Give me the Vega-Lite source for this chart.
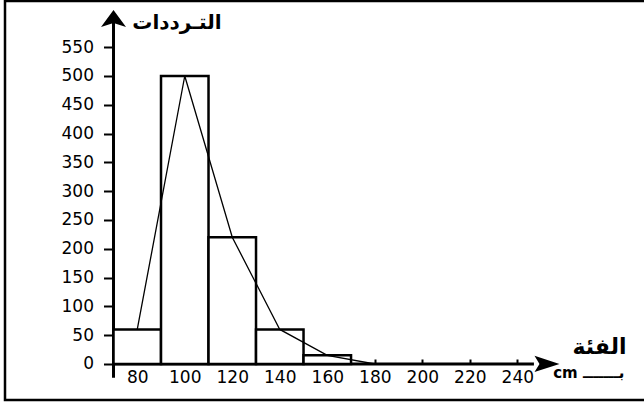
{
  "$schema": "https://vega.github.io/schema/vega-lite/v6.json",
  "autosize": {"type": "none"},
  "padding": {"left": 5, "top": 1, "right": 0, "bottom": 3},
  "width": 642,
  "height": 399,
  "background": "white",
  "config": {
    "view": {"stroke": "black", "strokeWidth": 2.5},
    "font": "DejaVu Sans"
  },
  "resolve": {"axis": {"x": "independent", "y": "independent"}},
  "datasets": {
    "bins": [
      {"start": 70, "end": 90, "count": 60},
      {"start": 90, "end": 110, "count": 500},
      {"start": 110, "end": 130, "count": 220},
      {"start": 130, "end": 150, "count": 60},
      {"start": 150, "end": 170, "count": 15}
    ],
    "polygon": [
      {"mid": 80, "count": 60},
      {"mid": 100, "count": 500},
      {"mid": 120, "count": 220},
      {"mid": 140, "count": 60},
      {"mid": 160, "count": 15},
      {"mid": 180, "count": 0}
    ],
    "yaxis": [{"x": 70, "y": -24, "y2": 600}],
    "xaxis": [{"x": 70, "x2": 247, "y": 0}],
    "yarrow": [{"x": 70, "y": 593}],
    "xarrow": [{"x": 252.5, "y": 0}]
  },
  "layer": [
    {
      "data": {"name": "xaxis"},
      "mark": {"type": "rule", "stroke": "black", "strokeWidth": 3},
      "encoding": {
        "x": {
          "field": "x", "type": "quantitative",
          "scale": {"domain": [24.32, 294.6], "nice": false, "zero": false},
          "axis": {
            "orient": "bottom", "offset": -36, "domain": false, "grid": false,
            "values": [80, 100, 120, 140, 160, 180, 200, 220, 240],
            "ticks": false,
            "labelFont": "DejaVu Sans", "labelFontSize": 17, "labelColor": "black",
            "labelPadding": 5, "labelBaseline": "top", "labelFlush": false, "labelOverlap": false,
            "title": "cm بـــــــ",
            "titleFont": "DejaVu Sans", "titleFontSize": 15, "titleFontWeight": "bold",
            "titleColor": "black", "titleAlign": "right", "titleAnchor": null,
            "titleX": 619, "titleY": 13, "titleBaseline": "alphabetic", "titleAngle": 0
          }
        },
        "x2": {"field": "x2"},
        "y": {
          "field": "y", "type": "quantitative",
          "scale": {"domain": [-62.5, 630.2], "nice": false, "zero": false},
          "axis": {
            "orient": "left", "offset": -108.5, "domain": false, "grid": false,
            "values": [0, 50, 100, 150, 200, 250, 300, 350, 400, 450, 500, 550],
            "ticks": true, "tickSize": 10, "tickWidth": 2, "tickColor": "black",
            "labelFont": "DejaVu Sans", "labelFontSize": 17, "labelColor": "black",
            "labelPadding": 10, "labelFlush": false, "labelOverlap": false,
            "title": "التـرددات",
            "titleFont": "DejaVu Sans", "titleFontSize": 20, "titleFontWeight": "bold",
            "titleColor": "black", "titleAngle": 0, "titleAlign": "center",
            "titleAnchor": null, "titleBaseline": "middle",
            "titleX": 63, "titleY": 21
          }
        }
      }
    },
    {
      "data": {"name": "yaxis"},
      "mark": {"type": "rule", "stroke": "black", "strokeWidth": 3},
      "encoding": {
        "x": {
          "field": "x", "type": "quantitative",
          "axis": {
            "orient": "top", "offset": -363, "domain": false, "grid": false,
            "values": [80, 100, 120, 140, 160, 180, 200, 220, 240],
            "ticks": true, "tickSize": 5, "tickWidth": 2, "tickColor": "black",
            "labels": false,
            "title": "الفئة",
            "titleFont": "DejaVu Sans", "titleFontSize": 22, "titleFontWeight": "bold",
            "titleColor": "black", "titleAlign": "right", "titleAnchor": null,
            "titleX": 621, "titleY": -11, "titleBaseline": "alphabetic", "titleAngle": 0
          }
        },
        "y": {"field": "y", "type": "quantitative", "axis": null},
        "y2": {"field": "y2"}
      }
    },
    {
      "data": {"name": "bins"},
      "mark": {"type": "rect", "fill": "white", "stroke": "black", "strokeWidth": 2.5},
      "encoding": {
        "x": {"field": "start", "type": "quantitative", "axis": null},
        "x2": {"field": "end"},
        "y": {"field": "count", "type": "quantitative", "axis": null},
        "y2": {"datum": 0}
      }
    },
    {
      "data": {"name": "polygon"},
      "mark": {"type": "line", "stroke": "black", "strokeWidth": 1.3},
      "encoding": {
        "x": {"field": "mid", "type": "quantitative", "axis": null},
        "y": {"field": "count", "type": "quantitative", "axis": null}
      }
    },
    {
      "data": {"name": "yarrow"},
      "mark": {"type": "point", "shape": "M0,-1L1,0.36L0,0.05L-1,0.36Z", "filled": true, "fill": "black", "stroke": null, "size": 625, "opacity": 1},
      "encoding": {
        "x": {"field": "x", "type": "quantitative", "axis": null},
        "y": {"field": "y", "type": "quantitative", "axis": null}
      }
    },
    {
      "data": {"name": "xarrow"},
      "mark": {"type": "point", "shape": "M1,0L-1,-0.65L-0.6,0L-1,0.65Z", "filled": true, "fill": "black", "stroke": null, "size": 625, "opacity": 1},
      "encoding": {
        "x": {"field": "x", "type": "quantitative", "axis": null},
        "y": {"field": "y", "type": "quantitative", "axis": null}
      }
    }
  ]
}
